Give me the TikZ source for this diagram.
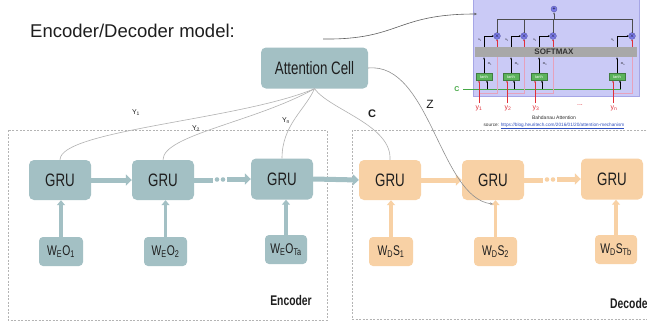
\documentclass[tikz,border=0pt]{standalone}
\usepackage{fontspec}
\setmainfont{Liberation Sans}
\newfontfamily\narrowfont[FakeStretch=0.74]{Liberation Sans}
\usetikzlibrary{arrows.meta}

\definecolor{encfill}{HTML}{A3C0C4}
\definecolor{decfill}{HTML}{F8D1A5}
\definecolor{boxtext}{HTML}{1E1E1E}
\definecolor{linkgray}{HTML}{B2B2B2}
\definecolor{framegray}{HTML}{B4B4B4}
\definecolor{insetbg}{HTML}{CACAF6}
\definecolor{insetedge}{HTML}{A6A6E6}
\definecolor{softgray}{HTML}{A8A8A8}
\definecolor{tanhgreen}{HTML}{5BB35B}
\definecolor{cgreen}{HTML}{45A845}
\definecolor{hred}{HTML}{E0303A}
\definecolor{hpink}{HTML}{E6A2BC}
\definecolor{opblue}{HTML}{7A7AE8}
\definecolor{urlblue}{HTML}{3050C0}
\definecolor{pointer}{HTML}{606060}

% subscript helper
\newcommand\lowidx[1]{\textsubscript{#1}}

\begin{document}
\begin{tikzpicture}[x=1pt,y=-1pt,
  gru/.style={rounded corners=5pt, minimum width=62pt, minimum height=40pt,
    inner sep=0pt, font=\narrowfont\fontsize{18}{18}\selectfont, text=boxtext},
  enc/.style={fill=encfill},
  dec/.style={fill=decfill},
  wbox/.style={rounded corners=4pt, minimum width=43pt, minimum height=29pt,
    inner sep=0pt, font=\narrowfont\fontsize{14}{14}\selectfont, text=boxtext},
  flow/.style={line width=5pt, -{Triangle[width=11pt,length=6pt]}},
  feed/.style={line width=3.5pt, -{Triangle[width=8pt,length=5pt]}},
  link/.style={draw=linkgray, line width=0.6pt},
  frame/.style={draw=framegray, dash pattern=on 2pt off 1.5pt, line width=0.5pt},
  ylbl/.style={font=\fontsize{7}{7}\selectfont, text=boxtext},
  thin/.style={line width=0.4pt},
  tip/.style={-{Stealth[length=2pt,width=1.8pt]}},
  tiny/.style={font=\fontsize{3}{3}\selectfont, inner sep=0pt},
  op/.style={circle, fill=opblue, draw=opblue!70!black, line width=0.3pt,
    minimum size=6pt, inner sep=0pt, font=\fontsize{5}{5}\selectfont},
  tanhbox/.style={fill=tanhgreen, draw=tanhgreen!70!black, line width=0.3pt,
    minimum width=16pt, minimum height=7pt, inner sep=0pt,
    font=\fontsize{4}{4}\selectfont, text=white}
]
\clip (0,0) rectangle (647,322);
\fill[white] (0,0) rectangle (647,322);

% title
\node[anchor=base west, inner sep=0pt, font=\fontsize{18.5}{20}\selectfont, text=boxtext]
  (title) at (30,37.5) {Encoder/Decoder model:};

% encoder / decoder frames
\draw[frame] (8,130) rectangle (327,320);
\draw[frame] (352,130) rectangle (660,319);
\node[font=\narrowfont\bfseries\fontsize{14}{14}\selectfont, text=boxtext] (enclbl) at (291,300) {Encoder};
\node[anchor=west, inner sep=0pt, font=\narrowfont\bfseries\fontsize{14}{14}\selectfont, text=boxtext] (declbl) at (610,303) {Decoder};

% attention cell
\node[gru, enc, minimum width=107pt, minimum height=41pt] (attn) at (314.5,68) {Attention Cell};

% encoder cells
\node[gru, enc] (gruE1) at (60,180) {GRU};
\node[gru, enc] (gruE2) at (163,180) {GRU};
\node[gru, enc, minimum height=41pt] (gruE3) at (282,179) {GRU};
\node[wbox, enc, minimum width=44pt] (wE1) at (61,251.5) {W\lowidx{E}O\lowidx{1}};
\node[wbox, enc] (wE2) at (165.5,251.5) {W\lowidx{E}O\lowidx{2}};
\node[wbox, enc, minimum width=42pt] (wE3) at (286,249.5) {W\lowidx{E}O\lowidx{Ta}};

% decoder cells
\node[gru, dec] (gruD1) at (390,180) {GRU};
\node[gru, dec] (gruD2) at (493,180) {GRU};
\node[gru, dec, minimum height=41pt] (gruD3) at (612,179) {GRU};
\node[wbox, dec, minimum width=44pt] (wD1) at (391,251.5) {W\lowidx{D}S\lowidx{1}};
\node[wbox, dec] (wD2) at (495.5,251.5) {W\lowidx{D}S\lowidx{2}};
\node[wbox, dec, minimum width=42pt] (wD3) at (616,249.5) {W\lowidx{D}S\lowidx{Tb}};

% inputs into the cells
\foreach \w/\g in {wE1/gruE1, wE2/gruE2, wE3/gruE3}
  \draw[feed, encfill] (\w.north) -- (\w.north |- \g.south);
\foreach \w/\g in {wD1/gruD1, wD2/gruD2, wD3/gruD3}
  \draw[feed, decfill] (\w.north) -- (\w.north |- \g.south);

% recurrent state flow
\coordinate (eA) at (213,180);
\coordinate (eB) at (227,179);
\coordinate (dA) at (543,180);
\coordinate (dB) at (557,179);
\draw[flow, encfill] (gruE1) -- (gruE2);
\draw[line width=5pt, encfill] (gruE2.east) -- (eA);
\fill[encfill] (217,179.5) circle (2.3) (223,179.5) circle (2.3);
\draw[flow, encfill] (eB) -- (gruE3.west);
\draw[flow, encfill] (gruE3.east) -- (gruD1.west);
\draw[flow, decfill] (gruD1) -- (gruD2);
\draw[line width=5pt, decfill] (gruD2.east) -- (dA);
\fill[decfill] (547,179.5) circle (2.3) (553,179.5) circle (2.3);
\draw[flow, decfill] (dB) -- (gruD3.west);

% links to the attention cell
\coordinate (zend) at (493,204);
\draw[link] (gruE1.north) .. controls (60,130) and (240,120) .. (attn.south);
\draw[link] (gruE2.north) .. controls (163,135) and (255,122) .. (attn.south);
\draw[link] (gruE3.north) .. controls (282,125) and (305,110) .. (attn.south);
\draw[link] (gruD1.north) .. controls (392,125) and (330,110) .. (attn.south);
\draw[link, -{Stealth[length=3pt,width=2.5pt]}, draw=pointer!70]
  (attn.east) .. controls (430,62) and (440,198) .. (zend);

\node[ylbl] (y1) at (136,113) {Y\lowidx{1}};
\node[ylbl] (y2) at (196,129) {Y\lowidx{2}};
\node[ylbl] (yn) at (286,121) {Y\lowidx{n}};
\node[font=\bfseries\fontsize{11}{11}\selectfont, text=boxtext] (clbl) at (372,114) {C};
\node[font=\fontsize{12}{12}\selectfont, text=boxtext] (zlbl) at (430,104) {Z};

% Bahdanau attention inset
\fill[insetbg] (473,-1) rectangle (639,96);
\draw[insetedge, line width=0.4pt] (473,-1) rectangle (639,96);

\coordinate (ptrstart) at (323,39);
\coordinate (ptrend) at (477,14);
\draw[pointer, line width=0.6pt, -{Stealth[length=3pt,width=2.5pt]}]
  (ptrstart) .. controls (400,40) and (395,14) .. (ptrend);

% C line feeding every tanh
\draw[cgreen, line width=0.5pt] (463,89) -- (621,89);
\node[text=cgreen, font=\bfseries\fontsize{7}{7}\selectfont] (cin) at (457,89) {C};

\foreach \t/\m/\r/\c/\i in {484/497/479/487/1, 511/524/507/514/2, 539/553/535/542/3, 617/632/613/620/n}{
  % annotations branch up to the product
  \draw[hpink, line width=0.5pt] (\r,93) -- (\m,93) -- (\m,47);
  \draw[hred, line width=0.5pt, tip] (\m,47) -- (\m,39.2);
  \draw[hred, line width=0.5pt, tip] (\r,103) -- (\r,80.6);
  \draw[black, thin, tip] (\c,89) -- (\c,80.6);
  \draw[black, thin, tip] (\t,73.5) -- (\t,57.4);
  \node[tiny] at (\t+6,64) {m\lowidx{\i}};
  \draw[black, thin, tip] (\t,47) -- (\t,36) -- (\m-3.2,36);
  \node[tiny] at (\t-4,40) {s\lowidx{\i}};
  \node[tanhbox] at (\t,77) {tanh};
  \node[op] at (\m,36) {$\times$};
  \draw[black!70, thin] (\m,32.8) -- (\m,19);
}
\fill[softgray] (475,47) rectangle (637,57);
\node[font=\bfseries\fontsize{8}{8}\selectfont, text=black!80] (softmax) at (554,52) {SOFTMAX};
\draw[black!70, thin] (497,19) -- (632,19);
\draw[black!70, thin, tip] (554,19) -- (554,12.4);
\node[op] (sum) at (554,9) {+};

\foreach \x/\i in {479/1, 508/2, 536/3, 614/n}
  \node[text=hred, font=\fontsize{7}{7}\selectfont] at (\x,108) {y\lowidx{\i}};
\node[text=hred, font=\fontsize{7}{7}\selectfont] (ydots) at (580,105) {...};

\node[font=\fontsize{5}{5}\selectfont, text=black!80] (cap) at (554,118) {Bahdanau Attention};
\node[font=\fontsize{4.7}{5}\selectfont, text=black!80] (src) at (554,126)
  {source: \textcolor{urlblue}{\underline{https://blog.heuritech.com/2016/01/20/attention-mechanism}}};
\end{tikzpicture}
\end{document}
